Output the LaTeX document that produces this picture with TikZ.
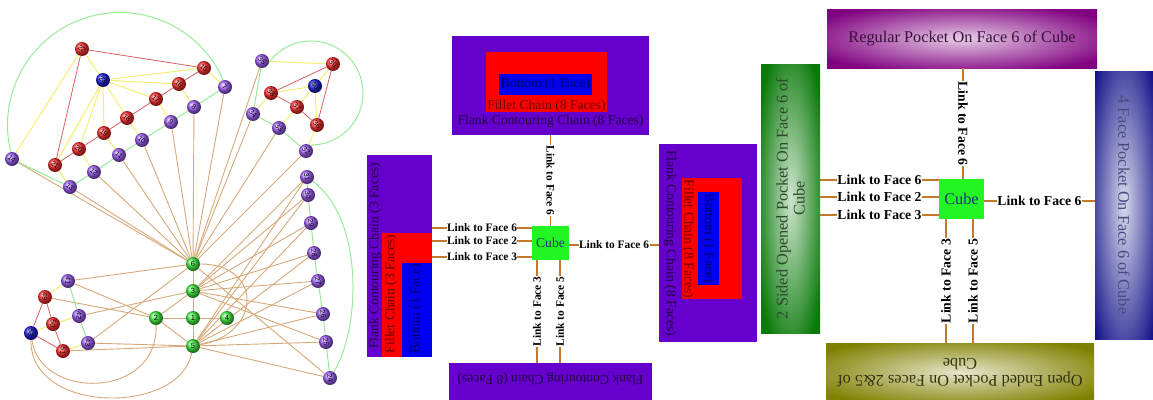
\documentclass[tikz,border=0pt]{standalone}
\usepackage{fontspec}
\setmainfont{Liberation Serif}
\setsansfont{Liberation Sans}
\usetikzlibrary{positioning, backgrounds}
\definecolor{cPurple}{HTML}{6600CC}
\definecolor{cRed}{HTML}{FF0000}
\definecolor{cBlue}{HTML}{0000F0}
\definecolor{cCube}{HTML}{22F522}
\definecolor{cLink}{HTML}{C8782A}
\definecolor{gRed}{HTML}{FF3030}
\definecolor{gBlue}{HTML}{2020E0}
\definecolor{gPurple}{HTML}{A060F8}
\definecolor{gGreen}{HTML}{40F040}
\definecolor{eTan}{HTML}{D8A878}
\definecolor{eGreen}{HTML}{98EC98}
\definecolor{eYellow}{HTML}{F4EE70}
\definecolor{eRed}{HTML}{D86060}
\definecolor{pPurple}{HTML}{800080}
\definecolor{pGreen}{HTML}{0A7A0A}
\definecolor{pNavy}{HTML}{000080}
\definecolor{pOlive}{HTML}{808000}
\definecolor{tBlue}{HTML}{000066}
\definecolor{tRed}{HTML}{6A0000}
\definecolor{tPurple}{HTML}{220044}
\definecolor{tCube}{HTML}{203080}
\definecolor{tPP}{HTML}{3A103A}
\definecolor{tGreen}{HTML}{2E4A2E}
\definecolor{tNavy}{HTML}{4A4A80}
\definecolor{tOlive}{HTML}{333310}
\pgfdeclareradialshading{pkPurple}{\pgfpoint{0bp}{0bp}}{color(0bp)=(white!80!pPurple); color(31bp)=(pPurple); color(50bp)=(pPurple)}
\pgfdeclareradialshading{pkGreen}{\pgfpoint{0bp}{0bp}}{color(0bp)=(white!80!pGreen); color(31bp)=(pGreen); color(50bp)=(pGreen)}
\pgfdeclareradialshading{pkNavy}{\pgfpoint{0bp}{0bp}}{color(0bp)=(white!85!pNavy); color(38bp)=(pNavy); color(50bp)=(pNavy)}
\pgfdeclareradialshading{pkOlive}{\pgfpoint{0bp}{0bp}}{color(0bp)=(white!80!pOlive); color(31bp)=(pOlive); color(50bp)=(pOlive)}
\tikzset{
  vtx/.style={circle, ball color=#1, minimum size=14pt, inner sep=0pt, font=\sffamily\fontsize{7}{7}\selectfont},
  tanE/.style={draw=eTan, line width=0.9pt},
  greenE/.style={draw=eGreen, line width=1pt},
  yelE/.style={draw=eYellow, line width=1pt},
  redE/.style={draw=eRed, line width=0.8pt},
  fbox/.style={rectangle, fill=#1, inner sep=0pt},
  ftext/.style={inner sep=0pt, font=\fontsize{13.6}{15}\selectfont},
  cube/.style={rectangle, fill=cCube, inner sep=0pt, text=tCube},
  link/.style={draw=cLink, line width=1.6pt},
  lnkM/.style={fill=white, inner sep=0.5pt, font=\bfseries\fontsize{11.4}{12}\selectfont},
  lnkR/.style={fill=white, inner sep=0.5pt, font=\bfseries\fontsize{13.7}{14}\selectfont},
  pbox/.style={rectangle, inner sep=0pt, shade, shading=#1, align=center, font=\fontsize{16.3}{17}\selectfont},
}

\begin{document}
\begin{tikzpicture}[x=1pt, y=-1pt]
\useasboundingbox (0,0) rectangle (1153,399);

% ---- face adjacency graph ----
\foreach \n/\px/\py in {6/193/264, 3/193/291, 1/193/318, 2/156/318, 4/227/318, 5/193/346}
  \node[vtx=gGreen, font=\sffamily\fontsize{7.5}{7.5}\selectfont] (v\n) at (\px,\py) {\n};
% pocket on face 6
\foreach \n/\px/\py in {7/225/87, 8/194/107, 9/171/122, 10/142/140, 11/119/155, 12/94/172, 13/70/187, 14/12/159}
  \node[vtx=gPurple] (v\n) at (\px,\py) {\rotatebox{-40}{\n}};
\foreach \n/\px/\py in {15/204/68, 16/179/84, 17/156/99, 18/127/118, 19/104/133, 20/79/149, 21/55/165, 22/82/49}
  \node[vtx=gRed] (v\n) at (\px,\py) {\rotatebox{-40}{\n}};
\node[vtx=gBlue] (v23) at (103,80) {\rotatebox{-40}{23}};
% flank chain on the right
\foreach \n/\px/\py in {24/330/378, 25/326/342, 26/323/314, 27/318/281, 28/314/253, 29/311/223, 30/308/195, 31/307/177}
  \node[vtx=gPurple] (v\n) at (\px,\py) {\rotatebox{-80}{\n}};
% small pocket
\foreach \n/\px/\py in {32/306/151, 33/279/128, 34/253/114, 35/262/61}
  \node[vtx=gPurple] (v\n) at (\px,\py) {\rotatebox{-45}{\n}};
\foreach \n/\px/\py in {36/317/125, 37/297/107, 38/271/93, 39/333/64}
  \node[vtx=gRed] (v\n) at (\px,\py) {\rotatebox{-45}{\n}};
\node[vtx=gBlue] (v40) at (315,86) {\rotatebox{-45}{40}};
% lower left pocket
\foreach \n/\px/\py in {41/68/281, 42/79/316, 43/88/343}
  \node[vtx=gPurple] (v\n) at (\px,\py) {\rotatebox{-95}{\n}};
\foreach \n/\px/\py in {49/45/297, 50/53/324, 51/63/351}
  \node[vtx=gRed] (v\n) at (\px,\py) {\rotatebox{-95}{\n}};
\node[vtx=gBlue] (v53) at (31,333) {\rotatebox{-95}{53}};
\coordinate (bigring) at (120,125);
\coordinate (smallring) at (311,93);

\begin{scope}[on background layer]
  \foreach \a/\b in {6/3, 6/14, 6/13, 6/12, 6/11, 6/10, 6/9, 6/8, 6/7, 6/35, 6/34, 6/33, 6/32, 6/41, 6/43, 6/24,
                     3/1, 3/2, 3/42, 3/31, 3/30, 3/29, 3/28, 3/27, 3/26, 3/25,
                     5/1, 5/2, 5/43, 5/51, 5/31, 5/30, 5/29, 5/28, 5/27, 5/26, 5/25, 5/24,
                     1/2, 1/4, 2/41, 2/49}
    \draw[tanE] (v\a) -- (v\b);
  \draw[tanE] (v6) to[out=0, in=10, looseness=2] (v5);
  \draw[tanE] (v2) .. controls (158,400) and (40,400) .. (v53);
  \draw[tanE] (v5) .. controls (180,415) and (30,415) .. (v53);
  \foreach \a/\b in {14/13, 13/12, 12/11, 11/10, 10/9, 9/8, 8/7, 35/34, 34/33, 33/32,
                     31/30, 30/29, 29/28, 28/27, 27/26, 26/25, 25/24, 41/42, 42/43}
    \draw[greenE] (v\a) -- (v\b);
  \draw[greenE] ([shift={(197.5:112.5pt)}]bigring) arc[start angle=197.5, end angle=19.9, radius=112.5pt];
  \draw[greenE] ([shift={(147:52pt)}]smallring) arc[start angle=147, end angle=-88, radius=52pt] -- (v32);
  \draw[greenE] (v31) .. controls (365,220) and (360,330) .. (v24);
  \foreach \a/\b in {23/15, 23/16, 23/17, 23/18, 23/19, 23/20, 23/21, 23/22, 22/14,
                     15/7, 16/8, 17/9, 18/10, 19/11, 20/12, 21/13,
                     35/39, 40/39, 40/38, 40/37, 40/36, 38/34, 37/33, 36/32,
                     49/41, 50/42, 51/43, 53/50}
    \draw[yelE] (v\a) -- (v\b);
  \foreach \a/\b in {22/15, 15/16, 16/17, 17/18, 18/19, 19/20, 20/21, 21/22,
                     39/38, 38/37, 37/36, 36/39, 49/50, 50/51, 49/53, 53/51}
    \draw[redE] (v\a) -- (v\b);
\end{scope}

% ---- face sets around the cube ----
\node[fbox=cPurple, minimum width=197pt, minimum height=99pt] (topF) at (550.5,85.5) {};
\node[fbox=cRed, minimum width=121pt, minimum height=60pt] (topR) at (546.5,82) {};
\node[fbox=cBlue, minimum width=93pt, minimum height=21pt] (topB) at (545.5,84.5) {};
\node[ftext, text=tBlue] (topBt) at (topB) {Bottom (1 Face)};
\node[ftext, text=tRed] (topRt) at (546.5,106) {Fillet Chain (8 Faces)};
\node[ftext, text=tPurple] (topFt) at (550.5,121) {Flank Contouring Chain (8 Faces)};

\node[fbox=cPurple, minimum width=65pt, minimum height=202pt] (leftF) at (399.5,256) {};
\node[fbox=cRed, minimum width=50pt, minimum height=124pt] (leftR) at (407,295) {};
\node[fbox=cBlue, minimum width=30pt, minimum height=94pt] (leftB) at (417,310) {};
\node[ftext, text=tPurple, rotate=90] (leftFt) at (375,256) {Flank Contouring Chain (3 Faces)};
\node[ftext, text=tRed, rotate=90] (leftRt) at (391,294) {Fillet Chain (3 Faces)};
\node[ftext, text=tBlue, rotate=90] (leftBt) at (416,309) {Bottom (1 Face)};

\node[fbox=cPurple, minimum width=98pt, minimum height=198pt] (rightF) at (708,243) {};
\node[fbox=cRed, minimum width=60pt, minimum height=121pt] (rightR) at (712,238.5) {};
\node[fbox=cBlue, minimum width=21pt, minimum height=93pt] (rightB) at (708.5,238.5) {};
\node[ftext, text=tPurple, rotate=-90] (rightFt) at (670,243) {Flank Contouring Chain (8 Faces)};
\node[ftext, text=tRed, rotate=-90] (rightRt) at (688,239) {Fillet Chain (8 Faces)};
\node[ftext, text=tBlue, rotate=-90] (rightBt) at (708.5,238.5) {Bottom (1 Face)};

\node[fbox=cPurple, minimum width=203pt, minimum height=50pt] (botF) at (550.5,388) {};
\node[ftext, text=tPurple, rotate=180] (botFt) at (550.5,379) {Flank Contouring Chain (8 Faces)};

\node[cube, minimum width=37pt, minimum height=34pt, font=\fontsize{13.6}{15}\selectfont] (cubeM) at (550.5,243) {Cube};

\draw[link] (topF.south) -- node[lnkM, rotate=-90] {Link to Face 6} (cubeM.north);
\draw[link] (leftF.east |- 0,228) -- node[lnkM] {Link to Face 6} (cubeM.west |- 0,228);
\draw[link] (leftF.east |- 0,241) -- node[lnkM] {Link to Face 2} (cubeM.west |- 0,241);
\draw[link] (leftF.east |- 0,257) -- node[lnkM] {Link to Face 3} (cubeM.west |- 0,257);
\draw[link] (cubeM.east |- 0,245) -- node[lnkM] {Link to Face 6} (rightF.west |- 0,245);
\draw[link] (cubeM.south -| 537,0) -- node[lnkM, rotate=90] {Link to Face 3} (botF.north -| 537,0);
\draw[link] (cubeM.south -| 560,0) -- node[lnkM, rotate=90] {Link to Face 5} (botF.north -| 560,0);

% ---- pockets around the cube ----
\node[pbox=pkPurple, minimum width=270pt, minimum height=59pt, text=tPP] (regP) at (962,38.5) {Regular Pocket On Face 6 of Cube};
\node[pbox=pkGreen, minimum width=269pt, minimum height=59pt, rotate=90, text=tGreen] (sideP) at (790.5,198.5) {2 Sided Opened Pocket On Face 6 of\\Cube};
\node[pbox=pkNavy, minimum width=268pt, minimum height=58pt, rotate=-90, text=tNavy] (fourP) at (1124,205) {4 Face Pocket On Face 6 of Cube};
\node[pbox=pkOlive, minimum width=268pt, minimum height=59pt, rotate=180, text=tOlive] (openP) at (960,372.5) {Open Ended Pocket On Faces 2\&5 of\\Cube};

\node[cube, minimum width=45pt, minimum height=40pt, font=\fontsize{16.3}{17}\selectfont] (cubeR) at (961.5,199) {Cube};

\draw[link] (regP.south -| 963,0) -- node[lnkR, rotate=-90] {Link to Face 6} (cubeR.north -| 963,0);
\draw[link] (sideP.south |- 0,180) -- node[lnkR] {Link to Face 6} (cubeR.west |- 0,180);
\draw[link] (sideP.south |- 0,197) -- node[lnkR] {Link to Face 2} (cubeR.west |- 0,197);
\draw[link] (sideP.south |- 0,215) -- node[lnkR] {Link to Face 3} (cubeR.west |- 0,215);
\draw[link] (cubeR.east |- 0,201) -- node[lnkR] {Link to Face 6} (fourP.south |- 0,201);
\draw[link] (cubeR.south -| 946,0) -- node[lnkR, rotate=90] {Link to Face 3} (openP.south -| 946,0);
\draw[link] (cubeR.south -| 973,0) -- node[lnkR, rotate=90] {Link to Face 5} (openP.south -| 973,0);
\end{tikzpicture}
\end{document}
